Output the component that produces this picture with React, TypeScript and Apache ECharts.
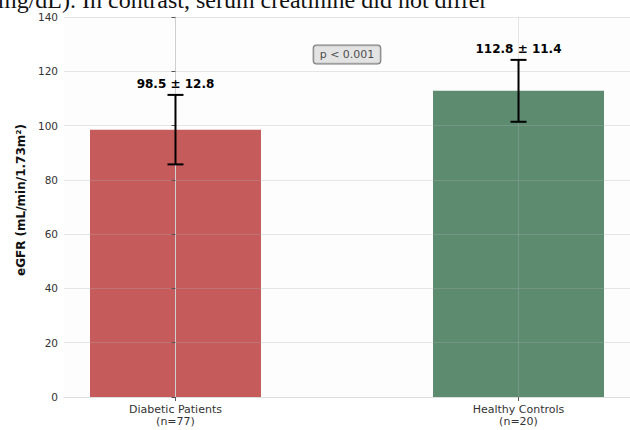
import React, { useEffect, useRef } from "react";
import * as echarts from "echarts";

const categories = ["Diabetic Patients", "Healthy Controls"];
const sampleSizes = [77, 20];
const means = [98.5, 112.8];
const sds = [12.8, 11.4];
const barColors = ["#c65b5b", "#5c8b6f"];
const yMin = 0;
const yMax = 140;
const yStep = 20;
const pValueText = "p < 0.001";
const pValueX = 0.5;
const pValueY = 126.2;
const headerText = "mg/dL). In contrast, serum creatinine did not differ";
const yAxisTitle = "eGFR (mL/min/1.73m²)";

const FONT = '"DejaVu Sans", sans-serif';

export default function App() {
  const ref = useRef<HTMLDivElement>(null);
  useEffect(() => {
    if (!ref.current) return;
    const chart = echarts.init(ref.current, null, { renderer: "svg" });
    const xIdx = categories.map((_, i) => i);
    const option: any = {
      animation: false,
      backgroundColor: "#ffffff",
      textStyle: { fontFamily: FONT },
      grid: {
        left: 64,
        right: 0,
        top: 17,
        bottom: 33,
        show: true,
        backgroundColor: "#fdfdfd",
        borderWidth: 0,
      },
      graphic: [
        {
          type: "text",
          left: -2,
          top: -12,
          style: {
            text: headerText,
            font: '24px "Liberation Serif", serif',
            fill: "#111",
          },
        },
      ],
      xAxis: {
        type: "value",
        min: -0.325,
        max: 1.325,
        z: 3,
        axisLine: { show: true, lineStyle: { color: "#dddddd", width: 1 } },
        axisTick: {
          show: true,
          customValues: xIdx,
          length: 4,
          lineStyle: { color: "#555" },
        },
        axisLabel: {
          customValues: xIdx,
          formatter: (v: number) => {
            const i = Math.round(v);
            return `${categories[i]}\n(n=${sampleSizes[i]})`;
          },
          color: "#333",
          fontSize: 11,
          lineHeight: 12,
          margin: 6,
          fontFamily: FONT,
        },
        splitLine: { show: false },
      },
      yAxis: {
        type: "value",
        min: yMin,
        max: yMax,
        interval: yStep,
        z: 3,
        name: yAxisTitle,
        nameLocation: "middle",
        nameGap: 35,
        nameTextStyle: {
          fontSize: 12,
          fontWeight: "bold",
          color: "#111",
          fontFamily: FONT,
          padding: [0, 0, 0, 14],
        },
        axisLine: { show: true, lineStyle: { color: "#dddddd", width: 1 } },
        axisTick: { show: true, length: 4, lineStyle: { color: "#555" } },
        axisLabel: { color: "#333", fontSize: 10.5, margin: 6, fontFamily: FONT },
        splitLine: {
          show: true,
          lineStyle: { color: "rgba(176,176,176,0.3)", width: 1 },
        },
      },
      series: [
        {
          type: "bar",
          z: 2,
          barWidth: 171,
          data: means.map((m, i) => ({
            value: [i, m],
            itemStyle: { color: barColors[i] },
          })),
        },
        {
          type: "scatter",
          z: 3,
          symbolSize: 1,
          itemStyle: { color: "rgba(0,0,0,0)" },
          data: [[pValueX, pValueY]],
          label: {
            show: true,
            position: "inside",
            formatter: pValueText,
            fontSize: 11,
            color: "#222",
            fontFamily: FONT,
            backgroundColor: "#dcdcdc",
            borderColor: "#555",
            borderWidth: 1,
            borderRadius: 3,
            padding: [4, 6, 3, 6],
          },
          markLine: {
            silent: true,
            symbol: "none",
            label: { show: false },
            lineStyle: { color: "rgba(176,176,176,0.3)", width: 1, type: "solid" },
            data: xIdx.map((i) => ({ xAxis: i })),
          },
        },
        {
          type: "custom",
          z: 10,
          data: means.map((m, i) => [i, m, sds[i]]),
          renderItem: (params: any, api: any) => {
            const x = api.value(0);
            const m = api.value(1);
            const s = api.value(2);
            const top = api.coord([x, m + s]);
            const bot = api.coord([x, m - s]);
            const cap = 8;
            const st = { stroke: "#000", lineWidth: 2 };
            return {
              type: "group",
              children: [
                { type: "line", shape: { x1: top[0], y1: top[1], x2: bot[0], y2: bot[1] }, style: st },
                { type: "line", shape: { x1: top[0] - cap, y1: top[1], x2: top[0] + cap, y2: top[1] }, style: st },
                { type: "line", shape: { x1: bot[0] - cap, y1: bot[1], x2: bot[0] + cap, y2: bot[1] }, style: st },
                {
                  type: "text",
                  style: {
                    text: `${m.toFixed(1)} ± ${s.toFixed(1)}`,
                    x: top[0],
                    y: top[1] - 5,
                    align: "center",
                    verticalAlign: "bottom",
                    font: `bold 12px ${FONT}`,
                    fill: "#000",
                  },
                },
              ],
            };
          },
        },
      ],
    };
    chart.setOption(option);
    return () => chart.dispose();
  }, []);
  return (
    <div
      ref={ref}
      style={{ position: "fixed", left: 0, top: 0, width: 630, height: 430 }}
    />
  );
}
